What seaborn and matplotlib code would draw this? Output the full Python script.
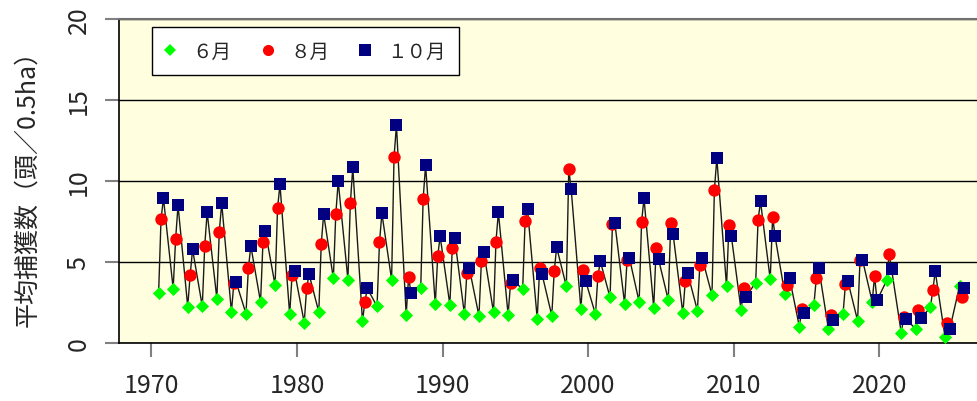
import matplotlib
matplotlib.use('Agg')
import matplotlib.pyplot as plt
from matplotlib.lines import Line2D
import pandas as pd
import seaborn as sns

years = list(range(1970, 2026))
june = [3.09, 3.35, 2.24, 2.26, 2.74, 1.93, 1.81, 2.53, 3.56, 1.77,
        1.26, 1.91, 3.99, 3.91, 1.36, 2.26, 3.91, 1.75, 3.42, 2.39,
        2.37, 1.77, 1.67, 1.89, 1.75, 3.31, 1.50, 1.69, 3.50, 2.10,
        1.77, 2.82, 2.43, 2.53, 2.18, 2.65, 1.83, 2.00, 2.96, 3.50,
        2.02, 3.72, 3.93, 3.05, 1.01, 2.37, 0.84, 1.79, 1.38, 2.55,
        3.87, 0.62, 0.86, 2.20, 0.39, 3.52]
august = [7.65, 6.40, 4.20, 5.99, 6.87, 3.68, 4.63, 6.23, 8.31, 4.22,
          3.40, 6.09, 7.94, 8.62, 2.55, 6.21, 11.47, 4.05, 8.91, 5.37,
          5.84, 4.32, 5.04, 6.26, 3.68, 7.51, 4.61, 4.42, 10.72, 4.53,
          4.14, 7.37, 5.10, 7.49, 5.86, 7.39, 3.81, 4.81, 9.47, 7.28,
          3.38, 7.59, 7.80, 3.56, 2.10, 4.01, 1.75, 3.64, 5.14, 4.12,
          5.49, 1.58, 2.04, 3.27, 1.23, 2.86]
october = [8.93, 8.50, 5.78, 8.07, 8.62, 3.74, 5.99, 6.89, 9.79, 4.42,
           4.24, 7.96, 9.98, 10.84, 3.37, 8.00, 13.44, 3.09, 10.97, 6.58,
           6.46, 4.63, 5.60, 8.07, 3.89, 8.25, 4.24, 5.91, 9.49, 3.81,
           5.04, 7.39, 5.24, 8.93, 5.16, 6.71, 4.30, 5.23, 11.40, 6.58,
           2.87, 8.74, 6.58, 3.99, 1.83, 4.65, 1.40, 3.81, 5.15, 2.63,
           4.55, 1.46, 1.52, 4.42, 0.86, 3.40]
months = [6, 8, 10]
month_labels = ['６月', '８月', '１０月']

frames = []
for m, vals in zip(months, [june, august, october]):
    frames.append(pd.DataFrame({'year': years, 'month': m, 'value': vals}))
df = pd.concat(frames, ignore_index=True)
df['t'] = df['year'] + df['month'] / 12
df = df.sort_values('t')

sns.set_style('white')
plt.rcParams['font.family'] = ['Liberation Sans Narrow', 'Noto Sans CJK JP', 'DejaVu Sans']

fig = plt.figure(figsize=(9.77, 4.02), dpi=100)
ax = fig.add_axes([0.1221, 0.1443, 0.8779, 0.8059])
ax.set_facecolor('#FFFFE0')

sns.lineplot(data=df, x='t', y='value', sort=True, estimator=None,
             color='#1a1a1a', lw=1, ax=ax, zorder=2)

styles = {6: ('D', 45, '#00FF00'), 8: ('o', 80, '#FF0000'), 10: ('s', 80, '#000080')}
for m in months:
    mk, sz, col = styles[m]
    sns.scatterplot(data=df[df['month'] == m], x='t', y='value', marker=mk, s=sz,
                    color=col, linewidth=0, ax=ax, zorder=3, legend=False)

ax.set_xlim(1967.8, 2026.7)
ax.set_ylim(0, 20)
ax.set_xticks([1970, 1980, 1990, 2000, 2010, 2020])
ax.set_yticks([0, 5, 10, 15, 20])
ax.yaxis.grid(True, color='black', lw=1)
ax.xaxis.grid(False)
ax.set_axisbelow(True)

for s in ['left', 'bottom']:
    ax.spines[s].set_color('black')
    ax.spines[s].set_linewidth(1.2)
ax.spines['top'].set_color('#707070')
ax.spines['top'].set_linewidth(1.5)
ax.spines['right'].set_visible(False)

ax.tick_params(axis='both', direction='out', length=10, width=1.5, color='#808080',
               labelsize=18, left=True, bottom=True)
ax.tick_params(axis='x', pad=11)
ax.tick_params(axis='y', pad=10)
for lab in ax.get_yticklabels():
    lab.set_rotation(90)
    lab.set_va('center')

ax.set_xlabel('')
ax.set_ylabel('平均捕獲数（頭／0.5ha）', fontsize=18,
              family=['Noto Sans CJK JP', 'DejaVu Sans'], labelpad=18)

handles = [Line2D([], [], ls='', marker='D', ms=6, color='#00FF00', mew=0),
           Line2D([], [], ls='', marker='o', ms=8, color='#FF0000', mew=0),
           Line2D([], [], ls='', marker='s', ms=8, color='#000080', mew=0)]
leg = ax.legend(handles, month_labels, ncol=3, loc='upper left',
                bbox_to_anchor=(0.038, 0.975), borderaxespad=0, frameon=True,
                fancybox=False, edgecolor='black', framealpha=1, facecolor='white',
                prop={'family': 'Noto Sans CJK JP', 'size': 14},
                handlelength=0.5, handletextpad=0.9, columnspacing=1.6, borderpad=0.7)
leg.get_frame().set_linewidth(1.0)

plt.savefig('out.png', dpi=100)
